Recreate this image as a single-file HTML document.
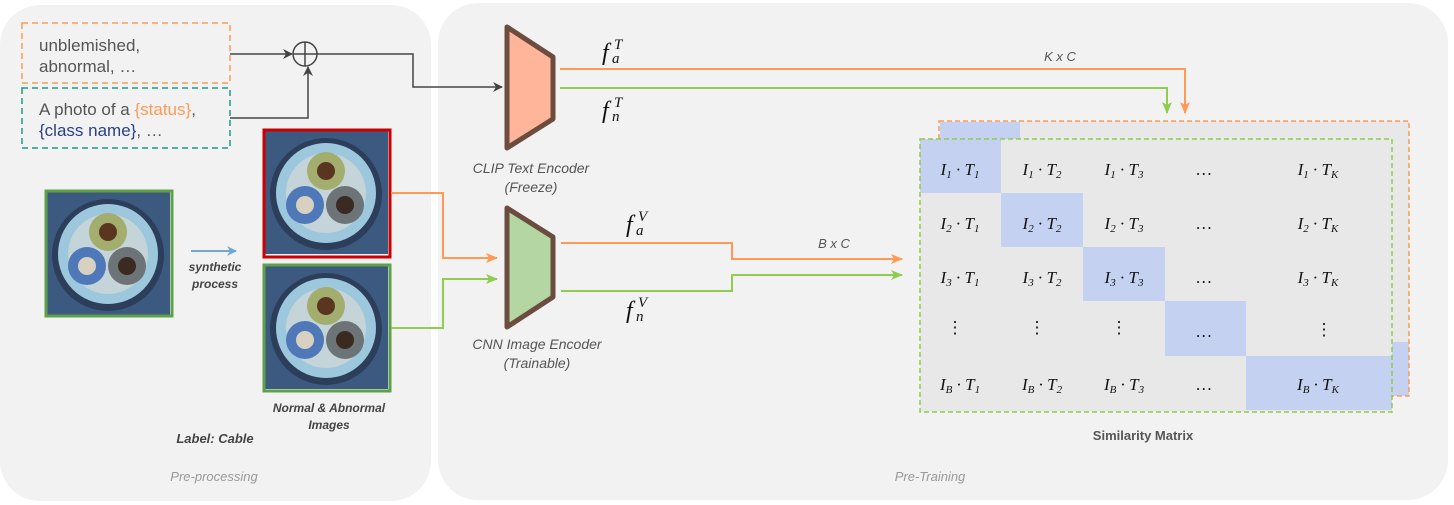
<!DOCTYPE html>
<html><head><meta charset="utf-8"><style>
body{margin:0;background:#fff;}
svg{display:block;font-family:"Liberation Sans",sans-serif;}
.m{font-family:"Liberation Serif",serif;font-style:italic;fill:#111;}
</style></head><body>
<svg width="1454" height="505" viewBox="0 0 1454 505" xmlns="http://www.w3.org/2000/svg">
<defs>
<marker id="ad" markerWidth="10" markerHeight="10" refX="9" refY="5" orient="auto" markerUnits="userSpaceOnUse"><path d="M0,0 L10,5 L0,10 L3,5z" fill="#444"/></marker>
<marker id="ao" markerWidth="12" markerHeight="10" refX="11" refY="5" orient="auto" markerUnits="userSpaceOnUse"><path d="M0,0 L12,5 L0,10 L3,5z" fill="#ff9955"/></marker>
<marker id="ag" markerWidth="12" markerHeight="10" refX="11" refY="5" orient="auto" markerUnits="userSpaceOnUse"><path d="M0,0 L12,5 L0,10 L3,5z" fill="#8fcc4f"/></marker>
<marker id="ab" markerWidth="10" markerHeight="10" refX="9" refY="5" orient="auto" markerUnits="userSpaceOnUse"><path d="M0,0 L10,5 L0,10 L3,5z" fill="#6fa8d0"/></marker>
<g id="cab">
<rect x="0" y="0" width="123" height="123" fill="#3c5a80"/>
<circle cx="61" cy="63" r="56" fill="#2c3e5a"/>
<circle cx="61" cy="62" r="50" fill="#9cc7dc"/>
<circle cx="61" cy="62" r="40" fill="#c4d4d8"/>
<circle cx="61" cy="40" r="19" fill="#a3ad6e"/>
<circle cx="61" cy="40" r="9" fill="#5a3520"/>
<circle cx="40" cy="74" r="19" fill="#4f78b8"/>
<circle cx="40" cy="74" r="9" fill="#d8d0c0"/>
<circle cx="80" cy="74" r="19" fill="#6d7478"/>
<circle cx="80" cy="74" r="9" fill="#3a2a22"/>
</g>
</defs>
<rect width="1454" height="505" fill="#fff"/>
<rect x="0" y="5" width="431" height="496" rx="40" fill="#f2f2f2"/>
<rect x="438" y="3" width="1010" height="497" rx="40" fill="#f2f2f2"/>

<rect x="22" y="23" width="208" height="60" fill="none" stroke="#ff9955" stroke-width="1.5" stroke-dasharray="6,4"/>
<text x="39" y="51" font-size="17" fill="#555">unblemished,</text>
<text x="39" y="72" font-size="17" fill="#555">abnormal, …</text>
<rect x="22" y="88" width="208" height="60" fill="none" stroke="#1a9a86" stroke-width="1.5" stroke-dasharray="6,4"/>
<text x="39" y="115" font-size="17" fill="#555">A photo of a <tspan fill="#ff9955">{status}</tspan>,</text>
<text x="39" y="136" font-size="17" fill="#2a3f8a">{class name}<tspan fill="#555">, …</tspan></text>

<circle cx="305" cy="54" r="12" fill="none" stroke="#444" stroke-width="1.5"/>
<path d="M293,54 H317 M305,42 V66" stroke="#444" stroke-width="1.5"/>
<path d="M230,54 H292" stroke="#444" stroke-width="1.5" fill="none" marker-end="url(#ad)"/>
<path d="M230,118 H308 V67" stroke="#444" stroke-width="1.5" fill="none" marker-end="url(#ad)"/>
<path d="M317,54 H413 V87 H502" stroke="#444" stroke-width="1.5" fill="none" marker-end="url(#ad)"/>

<g transform="translate(47,192)"><use href="#cab"/></g>
<rect x="46" y="191" width="126" height="125" fill="none" stroke="#5fa04a" stroke-width="3"/>
<g transform="translate(265,131)"><use href="#cab"/></g>
<rect x="264" y="130" width="126" height="127" fill="none" stroke="#cc0000" stroke-width="3"/>
<g transform="translate(265,266)"><use href="#cab"/></g>
<rect x="264" y="265" width="126" height="126" fill="none" stroke="#5fa04a" stroke-width="3"/>

<path d="M191,251 H236" stroke="#6fa8d0" stroke-width="2" marker-end="url(#ab)"/>
<text x="215" y="271" font-size="12" font-style="italic" font-weight="bold" fill="#444" text-anchor="middle">synthetic</text>
<text x="215" y="288" font-size="12" font-style="italic" font-weight="bold" fill="#444" text-anchor="middle">process</text>
<text x="329" y="412" font-size="12" font-style="italic" font-weight="bold" fill="#444" text-anchor="middle">Normal &amp; Abnormal</text>
<text x="329" y="429" font-size="12" font-style="italic" font-weight="bold" fill="#444" text-anchor="middle">Images</text>
<text x="215" y="443" font-size="13" font-style="italic" font-weight="bold" fill="#444" text-anchor="middle">Label: Cable</text>
<text x="214" y="481" font-size="13" font-style="italic" fill="#999" text-anchor="middle">Pre-processing</text>
<text x="930" y="481" font-size="13" font-style="italic" fill="#999" text-anchor="middle">Pre-Training</text>

<path d="M391,193 H443 V258 H497" stroke="#ff9955" stroke-width="2" fill="none" marker-end="url(#ao)"/>
<path d="M391,328 H443 V279 H497" stroke="#8fcc4f" stroke-width="2" fill="none" marker-end="url(#ag)"/>

<path d="M507,27 L553,57 V119 L507,148 Z" fill="#ffb599" stroke="#6b4c3e" stroke-width="5" stroke-linejoin="round"/>
<path d="M507,208 L553,237 V297 L507,327 Z" fill="#b3d6a2" stroke="#6b4c3e" stroke-width="5" stroke-linejoin="round"/>
<text x="531" y="173" font-size="14" font-style="italic" fill="#555" text-anchor="middle">CLIP Text Encoder</text>
<text x="531" y="192" font-size="14" font-style="italic" fill="#555" text-anchor="middle">(Freeze)</text>
<text x="537" y="349" font-size="14" font-style="italic" fill="#555" text-anchor="middle">CNN Image Encoder</text>
<text x="537" y="368" font-size="14" font-style="italic" fill="#555" text-anchor="middle">(Trainable)</text>

<path d="M560,69 H1185 V113" stroke="#ff9955" stroke-width="2" fill="none" marker-end="url(#ao)"/>
<path d="M560,88 H1167 V113" stroke="#8fcc4f" stroke-width="2" fill="none" marker-end="url(#ag)"/>
<path d="M561,243 H732 V259 H902" stroke="#ff9955" stroke-width="2" fill="none" marker-end="url(#ao)"/>
<path d="M561,291 H732 V275 H902" stroke="#8fcc4f" stroke-width="2" fill="none" marker-end="url(#ag)"/>

<g class="m" fill="#444">
<text x="602" y="60" style="font-size:24px">f</text><text x="614" y="49" style="font-size:15px">T</text><text x="612" y="63" style="font-size:15px">a</text>
<text x="602" y="118" style="font-size:24px">f</text><text x="614" y="107" style="font-size:15px">T</text><text x="612" y="121" style="font-size:15px">n</text>
<text x="626" y="232" style="font-size:24px">f</text><text x="638" y="221" style="font-size:15px">V</text><text x="636" y="235" style="font-size:15px">a</text>
<text x="626" y="318" style="font-size:24px">f</text><text x="638" y="307" style="font-size:15px">V</text><text x="636" y="321" style="font-size:15px">n</text>
</g>
<text x="1060" y="61" font-size="13" font-style="italic" fill="#555" text-anchor="middle">K x C</text>
<text x="834" y="248" font-size="13" font-style="italic" fill="#555" text-anchor="middle">B x C</text>

<rect x="940" y="121" width="469" height="275" fill="#e8e8e8"/>
<rect x="940" y="122" width="80" height="18" fill="#c5d1f0"/>
<rect x="1392" y="342" width="17" height="54" fill="#c5d1f0"/>
<rect x="939" y="121" width="470" height="275" fill="none" stroke="#ff9955" stroke-width="1.5" stroke-dasharray="5,3"/>
<rect x="920" y="139" width="472" height="273" fill="#e8e8e8"/>
<rect x="920" y="139" width="81" height="54" fill="#c5d1f0"/>
<rect x="1001" y="193" width="82" height="54" fill="#c5d1f0"/>
<rect x="1083" y="247" width="82" height="54" fill="#c5d1f0"/>
<rect x="1165" y="301" width="81" height="55" fill="#c5d1f0"/>
<rect x="1246" y="356" width="146" height="54" fill="#c5d1f0"/>
<rect x="920" y="139" width="472" height="273" fill="none" stroke="#8fcc4f" stroke-width="1.5" stroke-dasharray="5,3"/>
<g class="m" text-anchor="middle" style="font-size:17px">
<text x="960" y="175">I<tspan font-size="11" dy="3">1</tspan><tspan dy="-3"> · T</tspan><tspan font-size="11" dy="3">1</tspan></text>
<text x="1042" y="175">I<tspan font-size="11" dy="3">1</tspan><tspan dy="-3"> · T</tspan><tspan font-size="11" dy="3">2</tspan></text>
<text x="1124" y="175">I<tspan font-size="11" dy="3">1</tspan><tspan dy="-3"> · T</tspan><tspan font-size="11" dy="3">3</tspan></text>
<text x="1204" y="175">…</text>
<text x="1318" y="175">I<tspan font-size="11" dy="3">1</tspan><tspan dy="-3"> · T</tspan><tspan font-size="11" dy="3">K</tspan></text>
<text x="960" y="229">I<tspan font-size="11" dy="3">2</tspan><tspan dy="-3"> · T</tspan><tspan font-size="11" dy="3">1</tspan></text>
<text x="1042" y="229">I<tspan font-size="11" dy="3">2</tspan><tspan dy="-3"> · T</tspan><tspan font-size="11" dy="3">2</tspan></text>
<text x="1124" y="229">I<tspan font-size="11" dy="3">2</tspan><tspan dy="-3"> · T</tspan><tspan font-size="11" dy="3">3</tspan></text>
<text x="1204" y="229">…</text>
<text x="1318" y="229">I<tspan font-size="11" dy="3">2</tspan><tspan dy="-3"> · T</tspan><tspan font-size="11" dy="3">K</tspan></text>
<text x="960" y="283">I<tspan font-size="11" dy="3">3</tspan><tspan dy="-3"> · T</tspan><tspan font-size="11" dy="3">1</tspan></text>
<text x="1042" y="283">I<tspan font-size="11" dy="3">3</tspan><tspan dy="-3"> · T</tspan><tspan font-size="11" dy="3">2</tspan></text>
<text x="1124" y="283">I<tspan font-size="11" dy="3">3</tspan><tspan dy="-3"> · T</tspan><tspan font-size="11" dy="3">3</tspan></text>
<text x="1204" y="283">…</text>
<text x="1318" y="283">I<tspan font-size="11" dy="3">3</tspan><tspan dy="-3"> · T</tspan><tspan font-size="11" dy="3">K</tspan></text>
<text x="955" y="333" font-style="normal">⋮</text>
<text x="1037" y="333" font-style="normal">⋮</text>
<text x="1119" y="333" font-style="normal">⋮</text>
<text x="1204" y="337">…</text>
<text x="1324" y="335" font-style="normal">⋮</text>
<text x="960" y="390">I<tspan font-size="11" dy="3">B</tspan><tspan dy="-3"> · T</tspan><tspan font-size="11" dy="3">1</tspan></text>
<text x="1042" y="390">I<tspan font-size="11" dy="3">B</tspan><tspan dy="-3"> · T</tspan><tspan font-size="11" dy="3">2</tspan></text>
<text x="1124" y="390">I<tspan font-size="11" dy="3">B</tspan><tspan dy="-3"> · T</tspan><tspan font-size="11" dy="3">3</tspan></text>
<text x="1204" y="390">…</text>
<text x="1318" y="390">I<tspan font-size="11" dy="3">B</tspan><tspan dy="-3"> · T</tspan><tspan font-size="11" dy="3">K</tspan></text>
</g>
<text x="1143" y="440" font-size="13" font-weight="bold" fill="#555" text-anchor="middle">Similarity Matrix</text>
</svg>
</body></html>
